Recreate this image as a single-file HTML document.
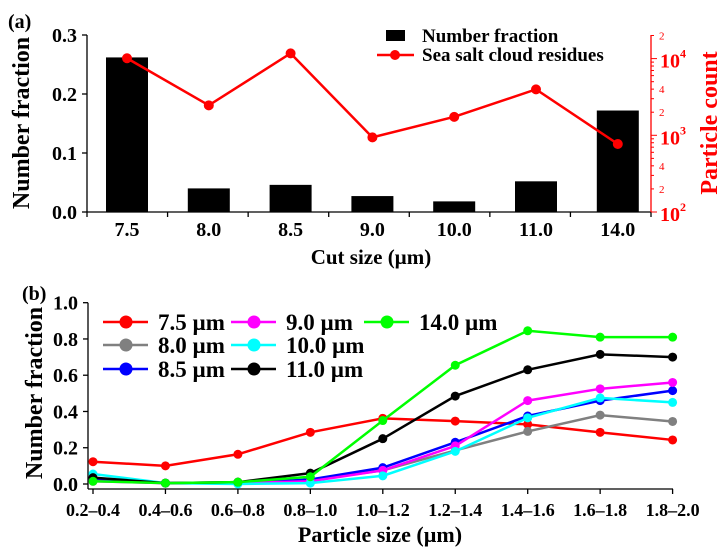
<!DOCTYPE html>
<html><head><meta charset="utf-8">
<style>
body{margin:0;background:#fff;}
svg{display:block;font-family:"Liberation Serif",serif;font-weight:bold;}
</style></head>
<body>
<svg id="c" width="722" height="557" viewBox="0 0 722 557" xmlns="http://www.w3.org/2000/svg">
<text x="8" y="28" font-size="20">(a)</text>
<text x="22" y="300" font-size="20">(b)</text>
<g id="pa"></g>
<g id="pb"></g>
</svg>
<script>
const cutSizes=["7.5","8.0","8.5","9.0","10.0","11.0","14.0"];
const numberFraction=[0.262,0.040,0.046,0.027,0.018,0.052,0.172];
const particleCount=[10100,2460,11700,940,1740,3970,770];
const aYTicks=[0,0.1,0.2,0.3];
const aYTickLabels=["0.0","0.1","0.2","0.3"];

const sizeBins=["0.2–0.4","0.4–0.6","0.6–0.8","0.8–1.0","1.0–1.2","1.2–1.4","1.4–1.6","1.6–1.8","1.8–2.0"];
const seriesNames=["7.5 µm","8.0 µm","8.5 µm","9.0 µm","10.0 µm","11.0 µm","14.0 µm"];
const seriesColors=["#ff0000","#808080","#0000ff","#ff00ff","#00ffff","#000000","#00ff00"];
const s75=[0.123,0.10,0.164,0.285,0.362,0.347,0.329,0.285,0.243];
const s80=[0.03,0.005,0.01,0.02,0.075,0.185,0.29,0.38,0.345];
const s85=[0.02,0.005,0.005,0.025,0.09,0.23,0.375,0.46,0.515];
const s90=[0.015,0.005,0.005,0.015,0.075,0.21,0.46,0.525,0.56];
const s100=[0.055,0.005,0.0,0.005,0.045,0.18,0.365,0.475,0.45];
const s110=[0.035,0.005,0.01,0.06,0.25,0.485,0.63,0.715,0.70];
const s140=[0.015,0.005,0.01,0.04,0.35,0.655,0.845,0.81,0.81];
const seriesData=[s75,s80,s85,s90,s100,s110,s140];
const bYTicks=[0,0.2,0.4,0.6,0.8,1.0];
const bYTickLabels=["0.0","0.2","0.4","0.6","0.8","1.0"];

const NS="http://www.w3.org/2000/svg";
function mk(p,t,a){const e=document.createElementNS(NS,t);for(const k in a)e.setAttribute(k,a[k]);p.appendChild(e);return e;}

// Panel A
const pa=document.getElementById('pa');
const aL=87,aR=651,aT=35,aB=212;
const ax=i=>127+i*81.8;
const ay=v=>aB-(v/0.3)*(aB-aT);
const ayR=c=>aB-(Math.log10(c)-2)*76.7;
let e;
e=mk(pa,'line',{x1:aL,y1:aT,x2:aL,y2:aB,stroke:'#000','stroke-width':1.3});


e=mk(pa,'line',{x1:aL,y1:aB,x2:aR,y2:aB,stroke:'#000','stroke-width':1.3});


e=mk(pa,'line',{x1:aR,y1:aT,x2:aR,y2:aB,stroke:'#ff0000','stroke-width':1.3});


aYTicks.forEach((v,i)=>{
  mk(pa,'line',{x1:aL-5,y1:ay(v),x2:aL,y2:ay(v),stroke:'#000','stroke-width':1.3});
  e=mk(pa,'text',{x:aL-10,y:ay(v)+7,'font-size':20,'text-anchor':'end'});e.textContent=aYTickLabels[i];
  
  
});
for(let i=0;i<=7;i++){const x=aL+i*(aR-aL)/7;mk(pa,'line',{x1:x,y1:aB,x2:x,y2:aB+5,stroke:'#000','stroke-width':1.3});}
cutSizes.forEach((c,i)=>{
  e=mk(pa,'rect',{x:ax(i)-21,y:ay(numberFraction[i]),width:42,height:aB-ay(numberFraction[i]),fill:'#000'});
  
  
  e=mk(pa,'text',{x:ax(i),y:236,'font-size':20,'text-anchor':'middle'});e.textContent=c;
  
  
});
for(let d=2;d<=4;d++){
  for(let m=1;m<=9;m++){
    const v=m*Math.pow(10,d);const y=ayR(v);if(y<aT-1)continue;
    mk(pa,'line',{x1:aR,y1:y,x2:aR+(m==1?6:3),y2:y,stroke:'#ff0000','stroke-width':1});
    if(m==2||m==4){e=mk(pa,'text',{x:aR+8,y:y+4,'font-size':11,fill:'#ff0000','font-weight':'normal'});e.textContent=m;}
    if(m==1){e=mk(pa,'text',{x:aR+9,y:y+9,'font-size':20,fill:'#ff0000'});e.textContent='10';
      const s=mk(pa,'text',{x:aR+29,y:y-1,'font-size':12,fill:'#ff0000'});s.textContent=d;
      
      }
  }
}
const pts=particleCount.map((c,i)=>ax(i)+','+ayR(c)).join(' ');
e=mk(pa,'polyline',{points:pts,fill:'none',stroke:'#ff0000','stroke-width':2.5});


particleCount.forEach((c,i)=>{e=mk(pa,'circle',{cx:ax(i),cy:ayR(c),r:5,fill:'#ff0000'});
  
  });
e=mk(pa,'text',{x:0,y:0,'font-size':24,'text-anchor':'middle',transform:'translate(29,123) rotate(-90)'});e.textContent='Number fraction';


e=mk(pa,'text',{x:0,y:0,'font-size':24,'text-anchor':'middle',fill:'#ff0000',transform:'translate(717,123) rotate(-90)'});e.textContent='Particle count';


e=mk(pa,'text',{x:371,y:264,'font-size':21,'text-anchor':'middle'});e.textContent='Cut size (µm)';


e=mk(pa,'rect',{x:386,y:30,width:19,height:11,fill:'#000'});


e=mk(pa,'text',{x:422,y:42,'font-size':19});e.textContent='Number fraction';


mk(pa,'line',{x1:377,y1:55,x2:414,y2:55,stroke:'#ff0000','stroke-width':2.5});
mk(pa,'circle',{cx:395,cy:55,r:5,fill:'#ff0000'});
e=mk(pa,'text',{x:422,y:61,'font-size':19});e.textContent='Sea salt cloud residues';



// Panel B
const pb=document.getElementById('pb');
const bL=88,bT=302.7,bB=484,bAx=489;
const bx=i=>93+i*(672.6-93)/8;
const by=v=>bB-v*(bB-bT);
e=mk(pb,'line',{x1:bL,y1:bT,x2:bL,y2:bAx,stroke:'#000','stroke-width':1.3});


e=mk(pb,'line',{x1:bL,y1:bAx,x2:673,y2:bAx,stroke:'#000','stroke-width':1.3});


bYTicks.forEach((v,i)=>{
  mk(pb,'line',{x1:bL-5,y1:by(v),x2:bL,y2:by(v),stroke:'#000','stroke-width':1.3});
  e=mk(pb,'text',{x:bL-10,y:by(v)+7,'font-size':20,'text-anchor':'end'});e.textContent=bYTickLabels[i];
  
  
});
sizeBins.forEach((s,i)=>{
  mk(pb,'line',{x1:bx(i),y1:bAx,x2:bx(i),y2:bAx+5,stroke:'#000','stroke-width':1.3});
  e=mk(pb,'text',{x:bx(i),y:516,'font-size':18,'text-anchor':'middle'});e.textContent=s;
  
  
});
seriesData.forEach((d,k)=>{
  e=mk(pb,'polyline',{points:d.map((v,i)=>bx(i)+','+by(v)).join(' '),fill:'none',stroke:seriesColors[k],'stroke-width':2.5});
  
  
  d.forEach((v,i)=>{e=mk(pb,'circle',{cx:bx(i),cy:by(v),r:4.5,fill:seriesColors[k]});
    
    });
});
const legPos=[[0,0],[0,1],[0,2],[1,0],[1,1],[1,2],[2,0]];
seriesNames.forEach((n,k)=>{
  const cx=[126,254,387][legPos[k][0]],y=[322,345,369][legPos[k][1]];
  mk(pb,'line',{x1:cx-23,y1:y,x2:cx+22,y2:y,stroke:seriesColors[k],'stroke-width':2.5});
  mk(pb,'circle',{cx:cx,cy:y,r:6.5,fill:seriesColors[k]});
  e=mk(pb,'text',{x:cx+32,y:y+8,'font-size':23});e.textContent=n;
  
  
});
e=mk(pb,'text',{x:0,y:0,'font-size':24,'text-anchor':'middle',transform:'translate(42,393) rotate(-90)'});e.textContent='Number fraction';


e=mk(pb,'text',{x:380,y:542,'font-size':22,'text-anchor':'middle'});e.textContent='Particle size (µm)';


</script>
</body></html>
